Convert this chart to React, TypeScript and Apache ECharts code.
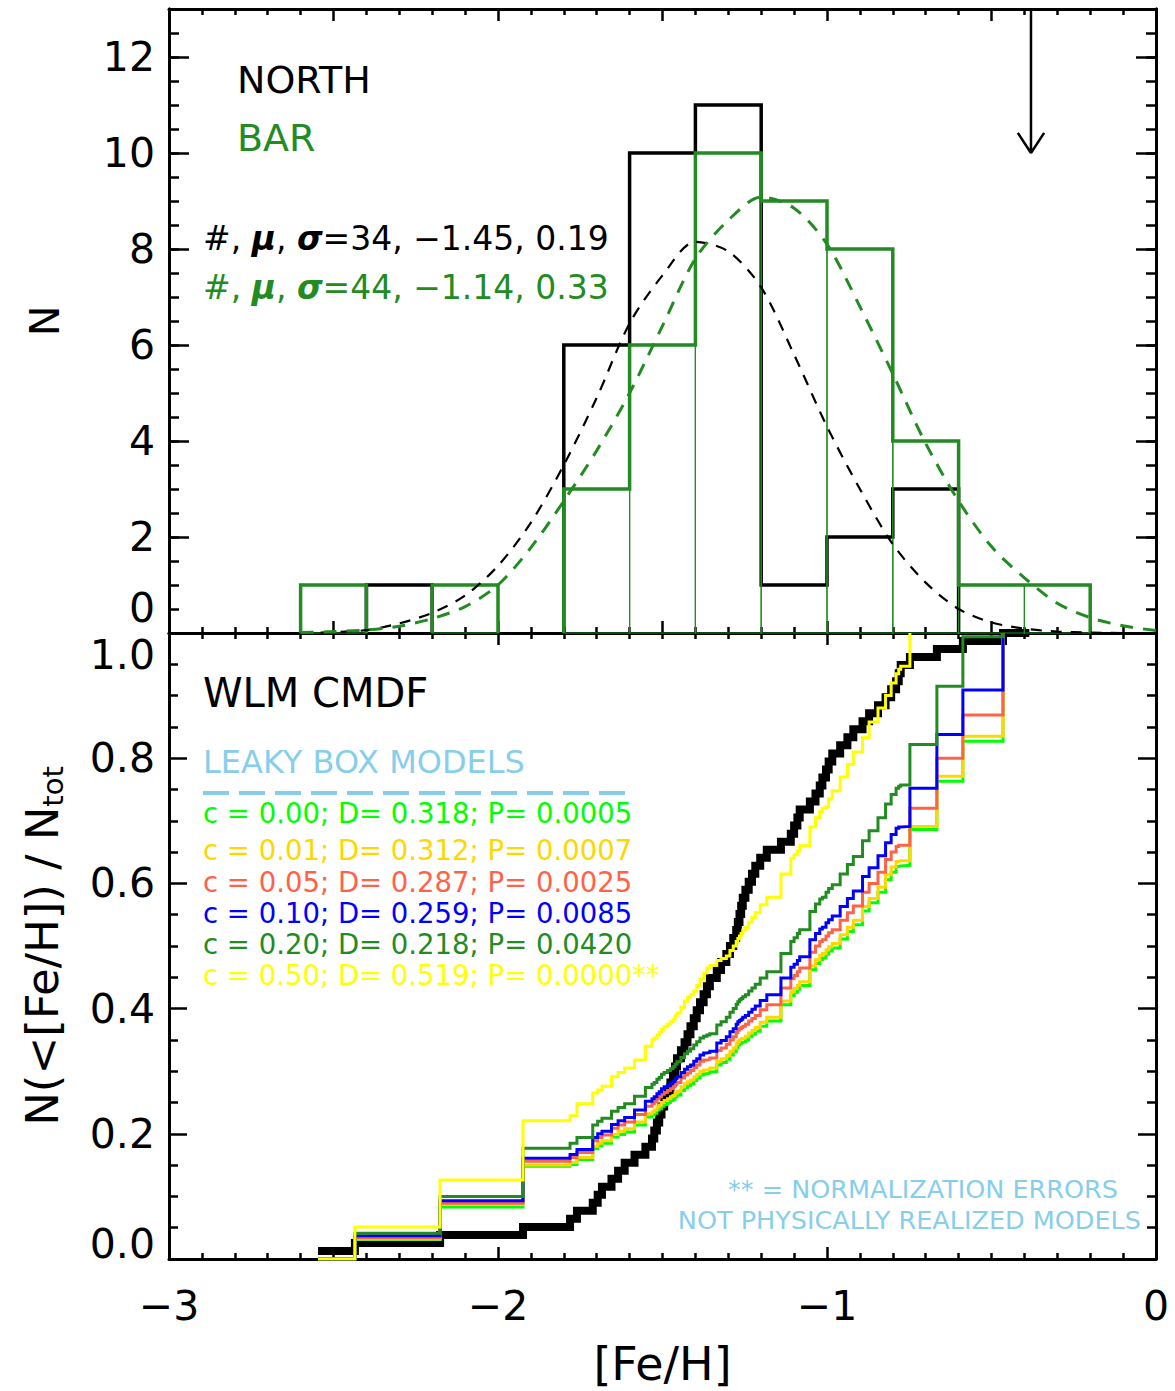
import React, { useEffect, useRef } from 'react';
import * as echarts from 'echarts';

// ---------------- DATA ----------------
const binEdges = [-2.6, -2.4, -2.2, -2.0, -1.8, -1.6, -1.4, -1.2, -1.0, -0.8, -0.6, -0.4, -0.2];
const northCounts = [0, 1, 0, 0, 6, 10, 11, 1, 2, 3, 0, 0];
const barCounts = [1, 0, 1, 0, 3, 6, 10, 9, 8, 4, 1, 1];

const fitX = [-2.6, -2.5, -2.4, -2.3, -2.2, -2.1, -2.0, -1.9, -1.8, -1.7, -1.6, -1.5, -1.4, -1.3, -1.2, -1.1, -1.0, -0.9, -0.8, -0.7, -0.6, -0.5, -0.4, -0.3, -0.2, -0.1, 0.0];
const northFit = [0.0, 0.02, 0.06, 0.2, 0.42, 0.78, 1.4, 2.3, 3.5, 4.9, 6.45, 7.45, 8.15, 7.95, 7.2, 5.8, 4.3, 3.0, 1.85, 1.05, 0.5, 0.22, 0.09, 0.03, 0.01, 0.0, 0.0];
const barFit = [0.01, 0.03, 0.06, 0.14, 0.3, 0.55, 1.0, 1.78, 2.75, 3.8, 5.0, 6.4, 7.8, 8.6, 9.08, 8.85, 8.1, 6.8, 5.4, 3.95, 2.75, 1.8, 1.15, 0.62, 0.32, 0.15, 0.05];

const arrowX = -0.38;
const arrowTop = 13;
const arrowTip = 10;
const arrowHalfWidth = 0.04;
const arrowHeadLen = 0.42;

const cmdfX = [-2.547, -2.435, -2.176, -1.924, -1.781, -1.760, -1.712, -1.697, -1.684, -1.655,
  -1.635, -1.615, -1.585, -1.552, -1.532, -1.525, -1.517, -1.510, -1.503, -1.495,
  -1.485, -1.476, -1.468, -1.462, -1.456, -1.444, -1.433, -1.424, -1.415, -1.405,
  -1.396, -1.386, -1.375, -1.365, -1.356, -1.335, -1.322, -1.306, -1.295, -1.285,
  -1.276, -1.271, -1.266, -1.261, -1.256, -1.248, -1.238, -1.228, -1.218, -1.203,
  -1.183, -1.140, -1.110, -1.100, -1.090, -1.083, -1.052, -1.035, -1.022, -1.014,
  -1.003, -0.995, -0.984, -0.960, -0.938, -0.920, -0.892, -0.872, -0.845, -0.822,
  -0.805, -0.790, -0.782, -0.776, -0.748, -0.666, -0.587, -0.465];
const cmdfEndX = -0.385;

const modelC000 = [0, .031, .083, .148, .151, .159, .176, .181, .185, .195, .199, .203, .214, .227, .230, .233, .238, .240, .244, .247, .250, .253, .255, .259, .262, .269, .274, .277, .280, .285, .289, .294, .296, .297, .299, .310, .314, .319, .326, .331, .338, .342, .344, .346, .347, .350, .355, .359, .364, .372, .380, .406, .421, .426, .431, .437, .462, .472, .478, .481, .487, .492, .497, .511, .523, .534, .556, .569, .586, .606, .618, .627, .628, .629, .686, .763, .827, 1.0];
const modelC001 = [0, .032, .087, .150, .154, .162, .180, .185, .189, .199, .204, .208, .219, .232, .235, .238, .243, .246, .250, .253, .256, .259, .261, .265, .268, .275, .280, .283, .286, .291, .295, .300, .302, .303, .305, .316, .320, .325, .332, .337, .344, .348, .350, .352, .353, .356, .361, .365, .370, .378, .386, .412, .427, .432, .437, .443, .468, .478, .485, .488, .494, .499, .504, .518, .530, .541, .563, .576, .594, .614, .626, .635, .636, .636, .691, .771, .835, 1.0];
const modelC005 = [0, .034, .089, .156, .162, .170, .189, .194, .198, .209, .214, .219, .231, .244, .248, .251, .256, .259, .263, .266, .269, .272, .275, .279, .282, .289, .294, .297, .301, .306, .310, .316, .318, .319, .321, .333, .337, .343, .350, .355, .362, .366, .368, .370, .372, .375, .380, .384, .389, .398, .406, .433, .448, .453, .459, .465, .490, .500, .507, .510, .516, .521, .526, .541, .553, .564, .586, .600, .618, .638, .650, .659, .661, .661, .720, .800, .869, 1.0];
const modelC010 = [0, .037, .093, .161, .167, .175, .194, .200, .204, .215, .221, .226, .238, .252, .256, .259, .264, .267, .272, .275, .278, .281, .284, .288, .291, .298, .303, .307, .310, .316, .320, .326, .329, .330, .332, .345, .349, .355, .363, .368, .375, .379, .381, .383, .386, .389, .394, .399, .404, .413, .422, .449, .466, .471, .477, .483, .510, .520, .527, .530, .537, .542, .548, .563, .576, .588, .611, .625, .644, .665, .678, .688, .690, .691, .752, .838, .909, 1.0];
const modelC020 = [0, .041, .100, .177, .185, .194, .214, .220, .225, .236, .242, .248, .260, .274, .279, .282, .287, .290, .295, .298, .301, .304, .307, .311, .315, .322, .328, .332, .336, .342, .347, .353, .356, .358, .360, .374, .379, .386, .394, .400, .407, .411, .414, .416, .419, .422, .428, .433, .439, .449, .459, .488, .507, .513, .520, .526, .555, .567, .575, .578, .586, .592, .598, .615, .630, .643, .668, .684, .705, .727, .742, .752, .755, .757, .822, .915, .994, 1.0];
const modelC050 = [0, .051, .126, .221, .229, .248, .265, .270, .276, .291, .298, .305, .318, .340, .350, .353, .358, .362, .367, .371, .375, .379, .382, .388, .393, .402, .412, .418, .422, .428, .437, .447, .457, .465, .469, .477, .480, .484, .493, .500, .507, .512, .516, .520, .525, .530, .538, .545, .553, .566, .578, .615, .640, .646, .652, .660, .690, .705, .715, .720, .722, .735, .748, .770, .790, .810, .833, .858, .880, .900, .920, .935, .942, .947, 1.0];

const modelC = ['0.00', '0.01', '0.05', '0.10', '0.20', '0.50'];
const modelD = ['0.318', '0.312', '0.287', '0.259', '0.218', '0.519'];
const modelP = ['0.0005', '0.0007', '0.0025', '0.0085', '0.0420', '0.0000**'];
const modelValues = [modelC000, modelC001, modelC005, modelC010, modelC020, modelC050];
const modelColors = ['#00FF00', '#FFD700', '#FF6347', '#0000FF', '#228B22', '#FFFF00'];

const yTicksTop = [0, 2, 4, 6, 8, 10, 12];

// ---------------- STYLE ----------------
const FONT = 'DejaVu Sans';
const BLACK = '#000000';
const GREEN = '#228B22';
const SKY = '#87CEEB';

function histOutline(edges: number[], counts: number[]) {
  const pts: any[] = [];
  const n = counts.length;
  for (let j = 0; j <= n; j++) {
    const L = j > 0 ? counts[j - 1] : 0;
    const R = j < n ? counts[j] : 0;
    if (L === 0 && R === 0) continue;
    pts.push([edges[j], L], [edges[j], R]);
    if (R === 0) pts.push([edges[j], null]);
  }
  return pts;
}

const tickLine = { color: BLACK, width: 2.5 };

function xAx(grid: number, pos: string, interval: number, split: number, labels: boolean, extra: any = {}) {
  return {
    type: 'value', gridIndex: grid, position: pos, min: -3, max: 0, interval,
    axisLine: { show: true, onZero: false, lineStyle: { color: BLACK, width: 3 } },
    axisTick: { show: true, inside: true, length: 12, lineStyle: tickLine },
    minorTick: { show: true, splitNumber: split, length: 6, lineStyle: tickLine },
    splitLine: { show: false }, minorSplitLine: { show: false },
    axisLabel: labels ? {
      show: true, fontSize: 41, fontFamily: FONT, color: BLACK, margin: 26,
      showMinLabel: true, showMaxLabel: true,
      formatter: (v: number) => (v < 0 ? '\u2212' + Math.abs(v) : String(v)),
    } : { show: false },
    ...extra,
  };
}

function yAx(grid: number, pos: string, min: number, max: number, interval: number, tickLen: number, minor: any, label: any, extra: any = {}) {
  return {
    type: 'value', gridIndex: grid, position: pos, min, max, interval,
    axisLine: { show: true, onZero: false, lineStyle: { color: BLACK, width: 3 } },
    axisTick: { show: true, inside: true, length: tickLen, lineStyle: tickLine },
    minorTick: minor,
    splitLine: { show: false }, minorSplitLine: { show: false },
    axisLabel: label,
    ...extra,
  };
}

export default function App() {
  const ref = useRef<HTMLDivElement>(null);
  useEffect(() => {
    if (!ref.current) return;
    const chart = echarts.init(ref.current, null, { renderer: 'svg' });

    const statsRich = (color: string) => ({
      n: { fontSize: 33, fontFamily: FONT, fill: color, color },
      g: { fontSize: 33, fontFamily: FONT, fontWeight: 'bold', fontStyle: 'italic', fill: color, color },
    });

    const graphic: any[] = [
      { type: 'text', style: { x: 237, y: 80, text: 'NORTH', fontSize: 38, fontFamily: FONT, fill: BLACK, verticalAlign: 'middle' } },
      { type: 'text', style: { x: 237, y: 138, text: 'BAR', fontSize: 38, fontFamily: FONT, fill: GREEN, verticalAlign: 'middle' } },
      { type: 'text', style: { x: 203, y: 238, text: '{n|#, }{g|\u03bc}{n|, }{g|\u03c3}{n|=34, \u22121.45, 0.19}', rich: statsRich(BLACK), verticalAlign: 'middle' } },
      { type: 'text', style: { x: 203, y: 287, text: '{n|#, }{g|\u03bc}{n|, }{g|\u03c3}{n|=44, \u22121.14, 0.33}', rich: statsRich(GREEN), verticalAlign: 'middle' } },
      { type: 'text', style: { x: 203, y: 693, text: 'WLM CMDF', fontSize: 40, fontFamily: FONT, fill: BLACK, verticalAlign: 'middle' } },
      { type: 'text', style: { x: 203, y: 762, text: 'LEAKY BOX MODELS', fontSize: 32, fontFamily: FONT, fill: SKY, verticalAlign: 'middle' } },
      { type: 'line', shape: { x1: 203, y1: 793, x2: 632, y2: 793 }, style: { stroke: SKY, lineWidth: 4, lineDash: [26, 10] } },
      { type: 'text', style: { x: 1118, y: 1189, text: '** = NORMALIZATION ERRORS', fontSize: 25.5, fontFamily: FONT, fill: SKY, align: 'right', verticalAlign: 'middle' } },
      { type: 'text', style: { x: 1141, y: 1220, text: 'NOT PHYSICALLY REALIZED MODELS', fontSize: 25.5, fontFamily: FONT, fill: SKY, align: 'right', verticalAlign: 'middle' } },
    ];
    const legendY = [813, 850, 882, 913, 944, 975];
    modelC.forEach((c, i) => {
      graphic.push({
        type: 'text',
        style: {
          x: 203, y: legendY[i], text: `c = ${c}; D= ${modelD[i]}; P= ${modelP[i]}`,
          fontSize: 27.5, fontFamily: FONT, fill: modelColors[i], verticalAlign: 'middle',
        },
      });
    });

    const cmdfData: any[] = cmdfX.map((x, i) => [x, (i + 1) / cmdfX.length]);
    cmdfData.push([cmdfEndX, 1]);

    const modelSeries = modelValues.map((vals, i) => ({
      type: 'line', xAxisIndex: 2, yAxisIndex: 4, step: 'end', symbol: 'none',
      data: vals.map((v, k) => [cmdfX[k], v]),
      lineStyle: { color: modelColors[i], width: 3, join: 'miter' },
      z: 3 + i,
    }));

    const barBins = barCounts.map((c, i) => [binEdges[i], binEdges[i + 1], c]).filter((b) => b[2] > 0);

    const option: any = {
      animation: false,
      backgroundColor: '#ffffff',
      grid: [
        { left: 169, top: 9, width: 987, height: 624 },
        { left: 169, top: 633, width: 987, height: 626 },
      ],
      xAxis: [
        xAx(0, 'bottom', 0.5, 5, false),
        xAx(0, 'top', 0.5, 5, false),
        xAx(1, 'bottom', 1, 10, true, {
          name: '[Fe/H]', nameLocation: 'middle', nameGap: 82,
          nameTextStyle: { fontSize: 46, lineHeight: 46, fontFamily: FONT, color: BLACK },
        }),
        xAx(1, 'top', 1, 10, false),
      ],
      yAxis: [
        yAx(0, 'left', 0, 13, 2, 20, { show: false }, {
          show: true, fontSize: 41, fontFamily: FONT, color: BLACK, margin: 14, lineHeight: 50,
          verticalAlignMinLabel: 'bottom',
          formatter: (v: number) => (yTicksTop.indexOf(v) >= 0 ? String(v) : ''),
        }, {
          name: 'N', nameLocation: 'middle', nameGap: 104,
          nameTextStyle: { fontSize: 41, fontFamily: FONT, color: BLACK },
        }),
        yAx(0, 'left', 0, 13, 0.5, 10, { show: false }, { show: false }),
        yAx(0, 'right', 0, 13, 2, 20, { show: false }, { show: false }),
        yAx(0, 'right', 0, 13, 0.5, 10, { show: false }, { show: false }),
        yAx(1, 'left', 0, 1, 0.2, 18, { show: true, splitNumber: 4, length: 9, lineStyle: tickLine }, {
          show: true, fontSize: 41, fontFamily: FONT, color: BLACK, margin: 14, lineHeight: 30,
          verticalAlignMinLabel: 'bottom', verticalAlignMaxLabel: 'top',
          showMinLabel: true, showMaxLabel: true,
          formatter: (v: number) => (v >= 1 ? '{mx|' + v.toFixed(1) + '}' : v.toFixed(1)),
          rich: {
            mx: { fontSize: 41, fontFamily: FONT, color: BLACK, lineHeight: 30, padding: [14, 0, 0, 0] },
          },
        }, {
          name: '{a|N(<[Fe/H]) / N}{s|tot}', nameLocation: 'middle', nameGap: 102,
          nameTextStyle: {
            fontSize: 45, fontFamily: FONT, color: BLACK,
            rich: {
              a: { fontSize: 45, fontFamily: FONT, color: BLACK, lineHeight: 50 },
              s: { fontSize: 29, fontFamily: FONT, color: BLACK, lineHeight: 24, verticalAlign: 'bottom' },
            },
          },
        }),
        yAx(1, 'right', 0, 1, 0.2, 18, { show: true, splitNumber: 4, length: 9, lineStyle: tickLine }, { show: false }),
      ],
      series: [
        {
          type: 'line', xAxisIndex: 0, yAxisIndex: 0, symbol: 'none', connectNulls: false,
          data: histOutline(binEdges, northCounts),
          lineStyle: { color: BLACK, width: 3.5, join: 'miter' }, z: 3,
        },
        {
          type: 'custom', xAxisIndex: 0, yAxisIndex: 0, data: barBins,
          encode: { x: [0, 1], y: 2 },
          renderItem: (params: any, api: any) => {
            const p0 = api.coord([api.value(0), 0]);
            const p1 = api.coord([api.value(1), api.value(2)]);
            return {
              type: 'rect',
              shape: { x: p0[0], y: p1[1], width: p1[0] - p0[0], height: p0[1] - p1[1] },
              style: { fill: 'none', stroke: GREEN, lineWidth: 1.2 },
            };
          },
          z: 4,
        },
        {
          type: 'line', xAxisIndex: 0, yAxisIndex: 0, symbol: 'none', connectNulls: false,
          data: histOutline(binEdges, barCounts),
          lineStyle: { color: GREEN, width: 3.5, join: 'miter' }, z: 5,
        },
        {
          type: 'line', xAxisIndex: 0, yAxisIndex: 0, symbol: 'none', smooth: 0.3,
          data: fitX.map((x, i) => [x, northFit[i]]),
          lineStyle: { color: BLACK, width: 2.2, type: [11, 9] }, z: 6,
        },
        {
          type: 'line', xAxisIndex: 0, yAxisIndex: 0, symbol: 'none', smooth: 0.3,
          data: fitX.map((x, i) => [x, barFit[i]]),
          lineStyle: { color: GREEN, width: 3, type: [13, 10] }, z: 7,
        },
        {
          type: 'line', xAxisIndex: 0, yAxisIndex: 0, symbol: 'none', connectNulls: false,
          data: [
            [arrowX, arrowTop], [arrowX, arrowTip], [arrowX - arrowHalfWidth, arrowTip + arrowHeadLen],
            [arrowX, null],
            [arrowX, arrowTip], [arrowX + arrowHalfWidth, arrowTip + arrowHeadLen],
          ],
          lineStyle: { color: BLACK, width: 2.5 }, z: 8,
        },
        {
          type: 'line', xAxisIndex: 2, yAxisIndex: 4, step: 'end', symbol: 'none',
          data: cmdfData,
          lineStyle: { color: BLACK, width: 8, join: 'miter' }, z: 2,
        },
        ...modelSeries,
      ],
      graphic,
    };
    chart.setOption(option);
    return () => chart.dispose();
  }, []);
  return (
    <div
      ref={ref}
      style={{ position: 'fixed', left: 0, top: 0, width: 1175, height: 1391, background: '#ffffff' }}
    />
  );
}
